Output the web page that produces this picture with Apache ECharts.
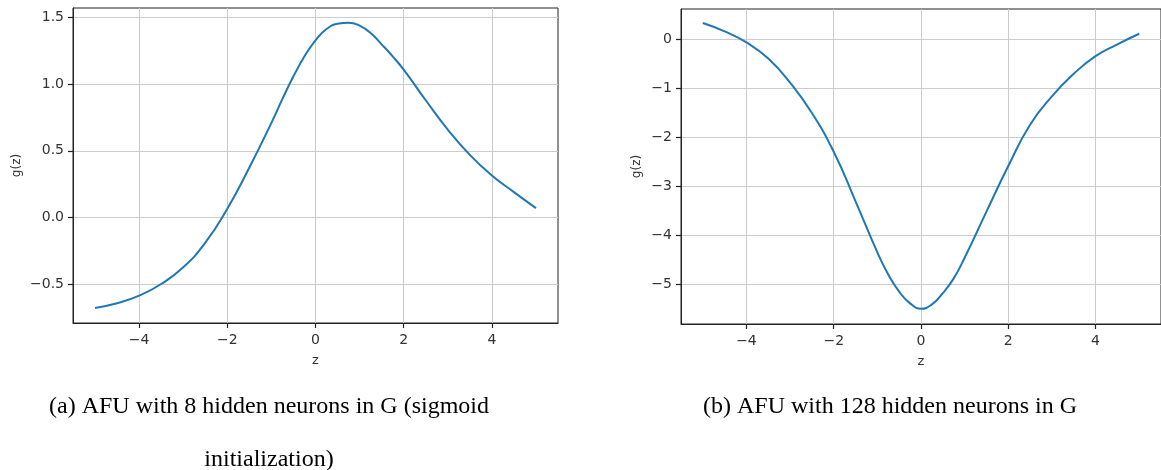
<!DOCTYPE html>
<html>
<head>
<meta charset="utf-8">
<script src="https://cdn.jsdelivr.net/npm/echarts@6/dist/echarts.min.js"></script>
<style>
html,body{margin:0;padding:0;background:#fff;}
#c{width:1161px;height:470px;}
</style>
</head>
<body>
<div id="c"></div>
<script>
// z values and g(z)
var zA = [-5, -4.5, -4, -3.5, -3, -2.5, -2, -1.5, -1, -0.75, -0.5, -0.25, 0, 0.25, 0.5, 0.75, 1, 1.25, 1.5, 1.75, 2, 2.5, 3, 3.5, 4, 4.5, 5];
var gA = [-0.68, -0.645, -0.588, -0.50, -0.375, -0.19, 0.065, 0.375, 0.71, 0.89, 1.06, 1.21, 1.33, 1.415, 1.455, 1.463, 1.44, 1.385, 1.30, 1.21, 1.11, 0.88, 0.66, 0.47, 0.315, 0.19, 0.07];
var zB = [-5, -4.5, -4, -3.5, -3, -2.5, -2, -1.5, -1, -0.75, -0.5, -0.25, 0, 0.25, 0.5, 0.75, 1, 1.5, 2, 2.5, 3, 3.5, 4, 4.5, 5];
var gB = [0.335, 0.165, -0.06, -0.39, -0.88, -1.50, -2.29, -3.30, -4.34, -4.79, -5.14, -5.38, -5.49, -5.40, -5.17, -4.87, -4.45, -3.51, -2.58, -1.74, -1.16, -0.70, -0.34, -0.10, 0.116];
var xTicks = [-4, -2, 0, 2, 4];
var yTicksA = [-0.5, 0, 0.5, 1.0, 1.5];
var yTicksB = [-5, -4, -3, -2, -1, 0];
var captionA = '(a) AFU with 8 hidden neurons in G (sigmoid\ninitialization)';
var captionB = '(b) AFU with 128 hidden neurons in G';

function pairs(xs, ys){ return xs.map(function(x,i){return [x, ys[i]];}); }
function fmt(d){ return function(v){ return (d ? v.toFixed(d) : String(Math.round(v))).replace('-', '\u2212'); }; }

var font = 'DejaVu Sans';
var txt = '#333';
function xAx(idx){
  return {
    gridIndex: idx, type: 'value', min: -5.5, max: 5.5, position: 'bottom',
    name: 'z', nameLocation: 'middle', nameGap: 31,
    nameTextStyle: {fontFamily: font, fontSize: 13, color: txt},
    axisLine: {show: true, onZero: false, lineStyle: {color: '#222', width: 1}},
    axisTick: {show: true, inside: false, length: 5, lineStyle: {color: '#222', width: 1.2}, customValues: xTicks},
    axisLabel: {fontFamily: font, fontSize: 14, color: txt, margin: 10, customValues: xTicks, formatter: fmt(0)},
    splitLine: {show: true, lineStyle: {color: '#cccccc', width: 1}}
  };
}
function yAx(idx, min, max, ticks, d, gap){
  return {
    gridIndex: idx, type: 'value', min: min, max: max, position: 'left',
    name: 'g(z)', nameLocation: 'middle', nameGap: gap,
    nameTextStyle: {fontFamily: font, fontSize: 12, color: txt},
    axisLine: {show: true, onZero: false, lineStyle: {color: '#222', width: 1}},
    axisTick: {show: true, inside: false, length: 5, lineStyle: {color: '#222', width: 1.2}, customValues: ticks},
    axisLabel: {fontFamily: font, fontSize: 14, color: txt, margin: 9, customValues: ticks, formatter: fmt(d)},
    splitLine: {show: true, lineStyle: {color: '#cccccc', width: 1}}
  };
}

var chart = echarts.init(document.getElementById('c'), null, {renderer: 'canvas'});
chart.setOption({
  animation: false,
  backgroundColor: '#fff',
  title: [
    {text: captionA, left: 264, top: 375, textAlign: 'center',
     textStyle: {fontFamily: 'Liberation Serif', fontSize: 24, fontWeight: 'normal', color: '#000', lineHeight: 53}},
    {text: captionB, left: 885, top: 375, textAlign: 'center',
     textStyle: {fontFamily: 'Liberation Serif', fontSize: 24, fontWeight: 'normal', color: '#000', lineHeight: 53}}
  ],
  grid: [
    {left: 73, top: 8, right: 603, bottom: 147, show: true, borderColor: '#222', borderWidth: 1, backgroundColor: 'transparent'},
    {left: 681, top: 9, right: -3, bottom: 146, show: true, borderColor: '#222', borderWidth: 1, backgroundColor: 'transparent'}
  ],
  xAxis: [xAx(0), xAx(1)],
  yAxis: [
    yAx(0, -0.793, 1.573, yTicksA, 1, 50),
    yAx(1, -5.80, 0.62, yTicksB, 0, 38)
  ],
  series: [
    {type: 'line', xAxisIndex: 0, yAxisIndex: 0, data: pairs(zA, gA), smooth: true, showSymbol: false,
     lineStyle: {color: '#1f77b4', width: 2}},
    {type: 'line', xAxisIndex: 1, yAxisIndex: 1, data: pairs(zB, gB), smooth: true, showSymbol: false,
     lineStyle: {color: '#1f77b4', width: 2}}
  ]
});
</script>
</body>
</html>
